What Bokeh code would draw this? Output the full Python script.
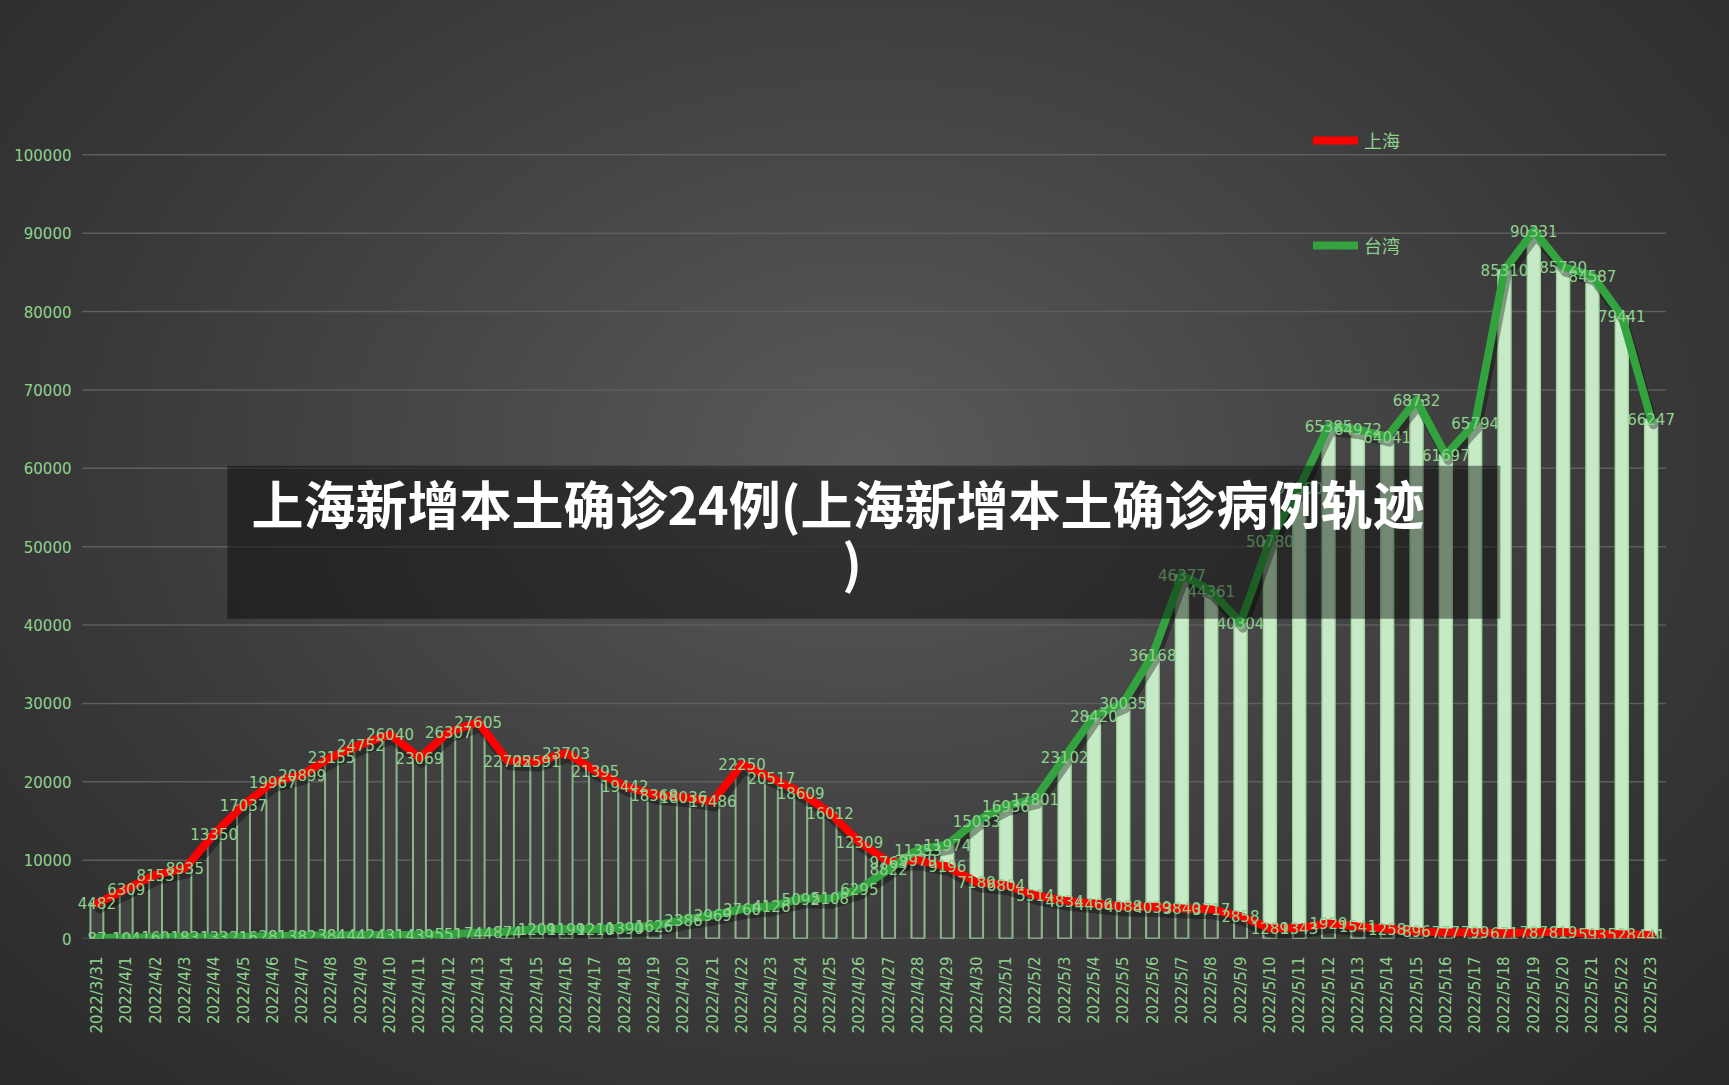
import math
from bokeh.plotting import figure
from bokeh.models import (FactorRange, Range1d, ColumnDataSource, Legend, LegendItem,
                          BoxAnnotation, Label, LabelSet, FixedTicker, BasicTickFormatter)
from bokeh.transform import dodge
from bokeh.core.properties import value
from bokeh.embed import file_html
from bokeh.resources import INLINE

dates = ["2022/3/31", "2022/4/1", "2022/4/2", "2022/4/3", "2022/4/4", "2022/4/5", "2022/4/6",
         "2022/4/7", "2022/4/8", "2022/4/9", "2022/4/10", "2022/4/11", "2022/4/12", "2022/4/13",
         "2022/4/14", "2022/4/15", "2022/4/16", "2022/4/17", "2022/4/18", "2022/4/19", "2022/4/20",
         "2022/4/21", "2022/4/22", "2022/4/23", "2022/4/24", "2022/4/25", "2022/4/26", "2022/4/27",
         "2022/4/28", "2022/4/29", "2022/4/30", "2022/5/1", "2022/5/2", "2022/5/3", "2022/5/4",
         "2022/5/5", "2022/5/6", "2022/5/7", "2022/5/8", "2022/5/9", "2022/5/10", "2022/5/11",
         "2022/5/12", "2022/5/13", "2022/5/14", "2022/5/15", "2022/5/16", "2022/5/17", "2022/5/18",
         "2022/5/19", "2022/5/20", "2022/5/21", "2022/5/22", "2022/5/23"]

shanghai = [4482, 6309, 8153, 8935, 13350, 17037, 19967, 20899, 23155, 24752, 26040, 23069,
            26307, 27605, 22705, 22591, 23703, 21395, 19442, 18368, 18036, 17486, 22250, 20517,
            18609, 16012, 12309, 9763, 9979, 9196, 7189, 6804, 5514, 4834, 4466, 4088, 4039,
            3840, 3717, 2858, 1289, 1343, 1929, 1541, 1258, 896, 777, 799, 671, 787, 819, 593,
            528, 441]

taiwan = [87, 104, 160, 183, 133, 216, 281, 382, 384, 442, 431, 439, 551, 744, 874, 1209, 1199,
          1210, 1390, 1626, 2386, 2969, 3760, 4126, 5092, 5108, 6295, 8822, 11353, 11974, 15033,
          16936, 17801, 23102, 28420, 30035, 36168, 46377, 44361, 40304, 50780, 57500, 65385,
          64972, 64041, 68732, 61697, 65794, 85310, 90331, 85720, 84587, 79441, 66247]

y_ticks = [0, 10000, 20000, 30000, 40000, 50000, 60000, 70000, 80000, 90000, 100000]

title_line1 = "上海新增本土确诊24例(上海新增本土确诊病例轨迹"
title_line2 = ")"

LABEL_GREEN = "#8fd18f"

src = ColumnDataSource(dict(
    d=dates, sh=shanghai, tw=taiwan,
    sh_txt=[str(v) for v in shanghai], tw_txt=[str(v) for v in taiwan],
))

W, H = 1729, 1085
PAD = 12  # px of extra frame on each side so edge labels are not clipped
p = figure(x_range=FactorRange(factors=dates, range_padding=0.4, range_padding_units="absolute"),
           y_range=Range1d(0, 104000),
           width=W, height=H, output_backend="svg", toolbar_location=None,
           min_border_left=82 - PAD, min_border_right=W - 1665 - PAD, min_border_top=123,
           min_border_bottom=H - 938)
p.outline_line_color = None
p.background_fill_alpha = 0
p.border_fill_alpha = 0
p.styles = {"background": "radial-gradient(ellipse at 50% 42%, #5a5a5a 0%, #474747 35%, "
                          "#383838 65%, #2a2a2a 100%)"}

# horizontal grid lines spanning exactly the category area
n = len(dates)
p.segment(x0=[0] * len(y_ticks), x1=[n] * len(y_ticks), y0=y_ticks, y1=y_ticks,
          line_color="#5e5e5e", line_width=1.5, level="underlay")

# bars
p.vbar(x="d", top="tw", width=0.44, source=src, fill_color="#c6eac6", line_color="#a6d6a6",
       line_width=1.5)
p.vbar(x="d", top="sh", width=0.44, source=src, fill_color="#424242", line_color="#8db58d",
       line_width=2)

# line shadows
for col in ("sh", "tw"):
    p.line(x=dodge("d", 0.08, range=p.x_range), y=dodge(col, -700), source=src,
           line_color="black", line_alpha=0.35, line_width=9, line_join="round",
           line_cap="round")

# lines
sh_line = p.line(x="d", y="sh", source=src, line_color="#ff0000", line_width=8,
                 line_join="round", line_cap="round")
tw_line = p.line(x="d", y="tw", source=src, line_color="#33a33f", line_width=8,
                 line_join="round", line_cap="round")

# data labels
for col in ("sh", "tw"):
    p.add_layout(LabelSet(x="d", y=col, text=col + "_txt", source=src, text_align="center",
                          text_baseline="middle", text_color=LABEL_GREEN,
                          text_font=value("DejaVu Sans"), text_font_size=value("15px")))

# axes
p.yaxis.ticker = FixedTicker(ticks=y_ticks)
p.yaxis.formatter = BasicTickFormatter(use_scientific=False)
p.yaxis.axis_line_color = None
p.yaxis.major_tick_line_color = None
p.yaxis.minor_tick_line_color = None
p.yaxis.major_label_text_color = LABEL_GREEN
p.yaxis.major_label_text_font = "DejaVu Sans"
p.yaxis.major_label_text_font_size = "15px"
p.yaxis.major_label_standoff = 5 - PAD

p.xaxis.axis_line_color = None
p.xaxis.major_tick_line_color = None
p.xaxis.major_label_orientation = math.pi / 2
p.xaxis.major_label_text_color = LABEL_GREEN
p.xaxis.major_label_text_font = "DejaVu Sans"
p.xaxis.major_label_text_font_size = "15px"
p.xaxis.major_label_standoff = 12

p.xgrid.grid_line_color = None
p.ygrid.grid_line_color = None

# legend
legend = Legend(items=[LegendItem(label="上海", renderers=[sh_line]),
                       LegendItem(label="台湾", renderers=[tw_line])],
                location=(1231 + PAD, 680), orientation="vertical", padding=0, margin=0,
                spacing=79, glyph_width=45, glyph_height=20, label_height=20,
                label_standoff=6, border_line_color=None, background_fill_alpha=0,
                label_text_color=LABEL_GREEN, label_text_font="Noto Sans CJK SC",
                label_text_font_size="18px")
p.add_layout(legend)

# title overlay
box = BoxAnnotation(left=4.95, right=48.36, bottom=40816, top=60332, fill_color="black",
                    fill_alpha=0.42, line_color=None)
p.add_layout(box)
p.add_layout(Label(x=25.77, y=55620, text=title_line1, text_align="center",
                   text_baseline="middle", text_color="white", text_font="Noto Sans CJK SC",
                   text_font_style="bold", text_font_size="52px"))
p.add_layout(Label(x=26.25, y=48220, text=title_line2, text_align="center",
                   text_baseline="middle", text_color="white", text_font="Noto Sans CJK SC",
                   text_font_style="bold", text_font_size="52px"))

open("out.html", "w").write(file_html(p, INLINE))
